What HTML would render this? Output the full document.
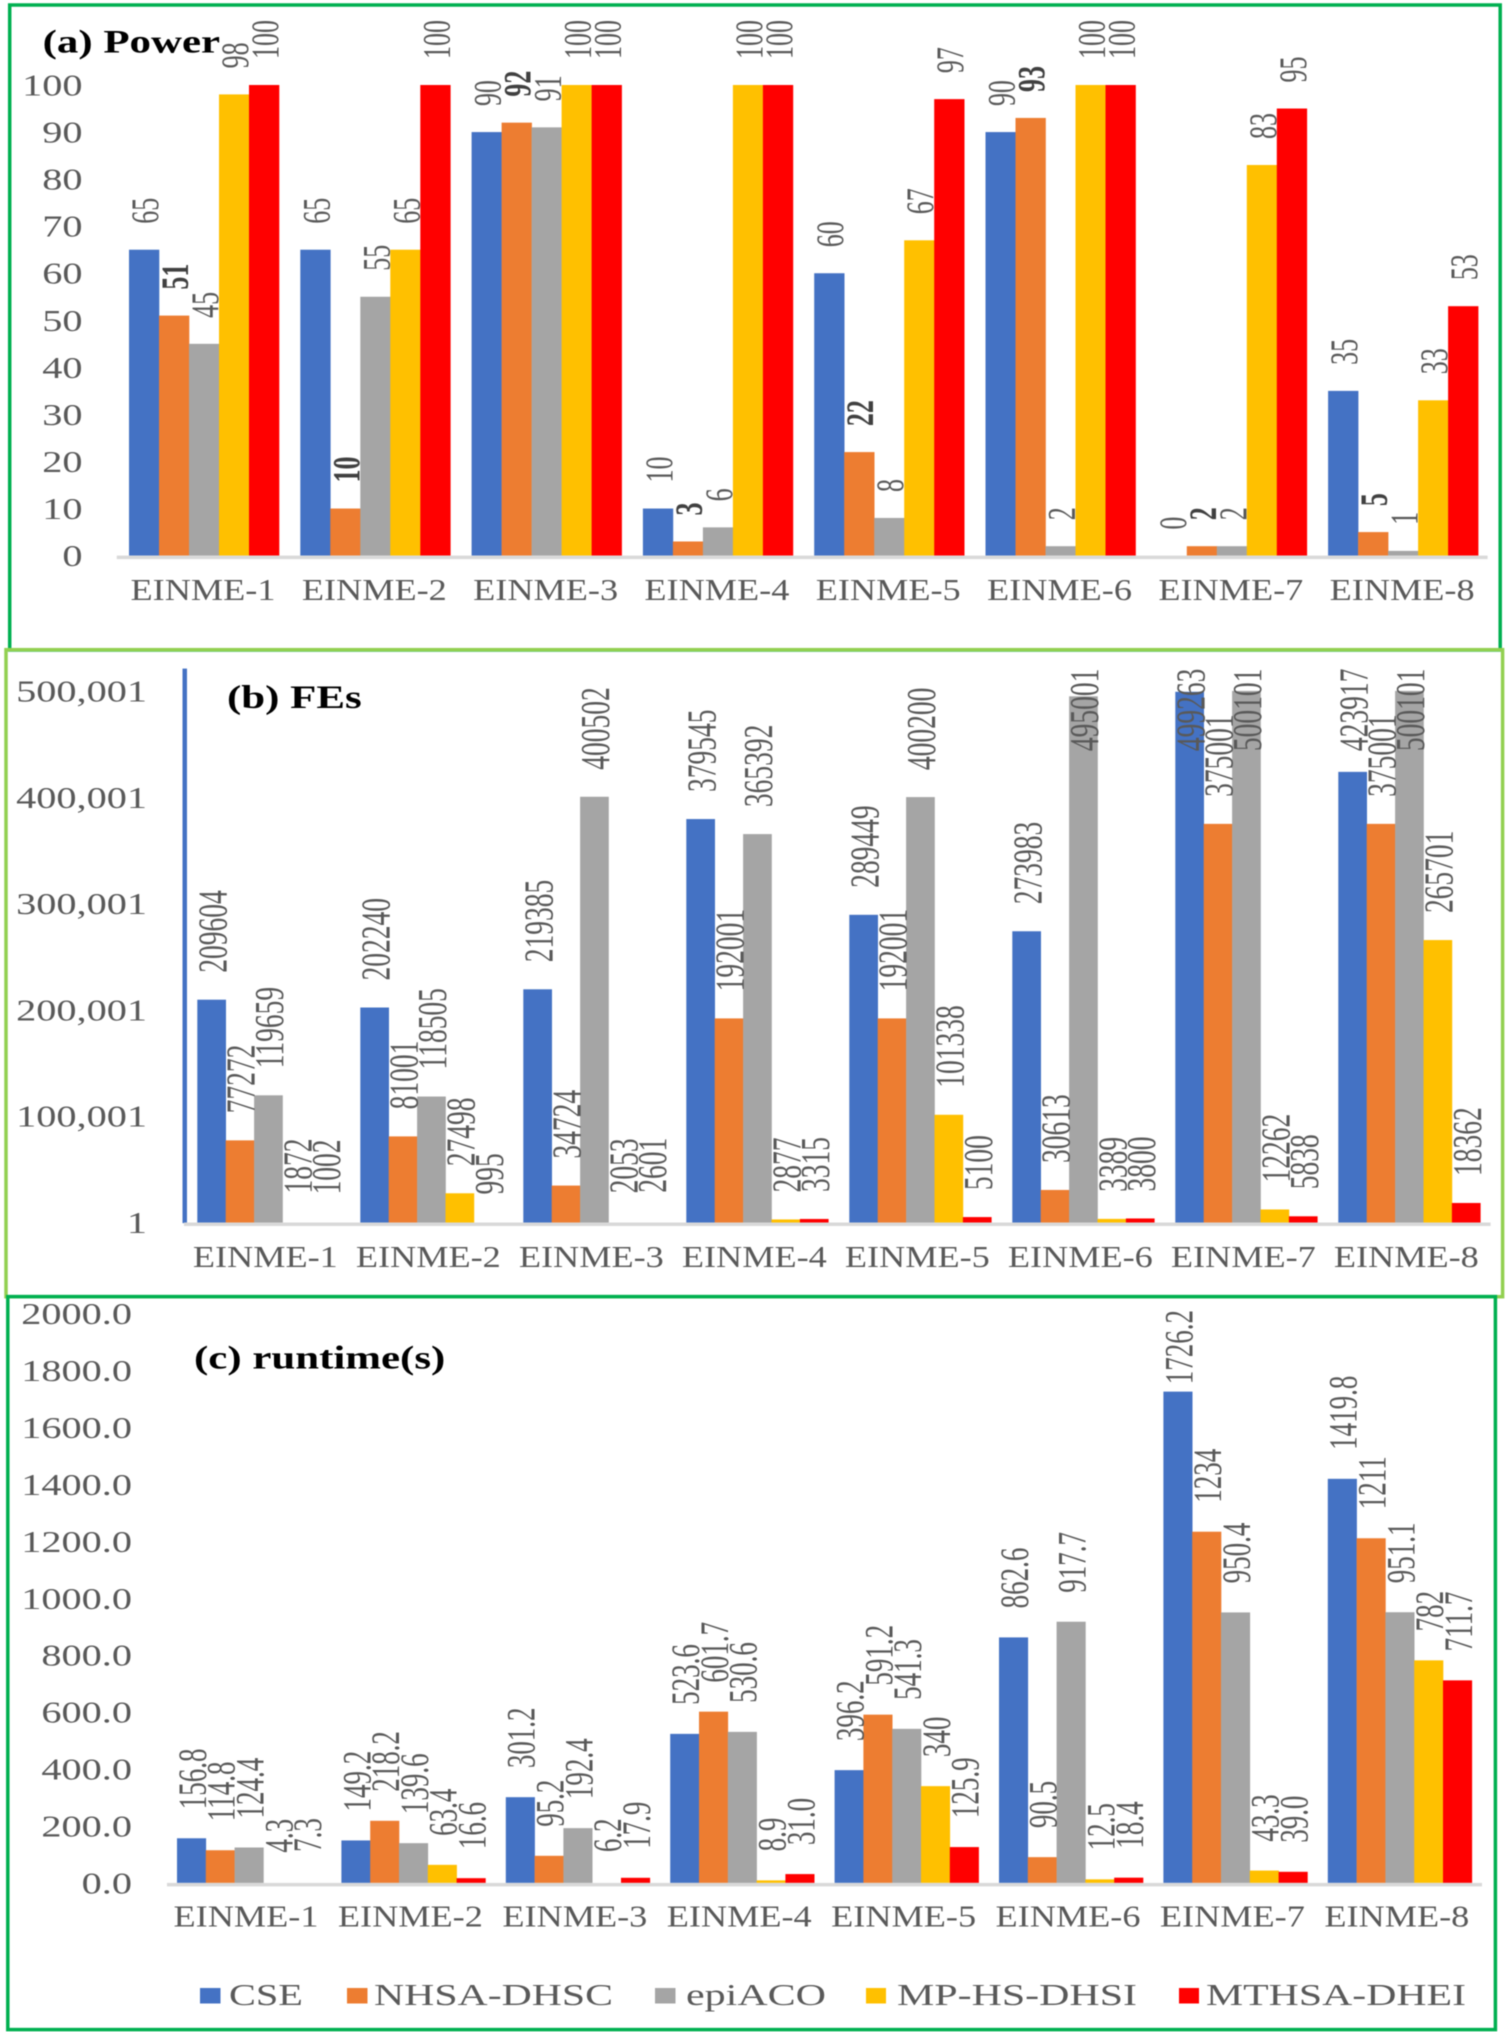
<!DOCTYPE html>
<html lang="en">
<head>
<meta charset="utf-8">
<title>Power, FEs and runtime comparison</title>
<style>
html,body{margin:0;padding:0;background:#fff;}
svg{display:block;font-family:"Liberation Serif",serif;filter:blur(0.5px);}
</style>
</head>
<body>
<svg id="figure" xmlns="http://www.w3.org/2000/svg" width="1506" height="2032" viewBox="0 0 1506 2032">
  <rect x="0" y="0" width="1506" height="2032" fill="#fff"/>
  <rect x="9.7" y="5" width="1490.5" height="645" fill="none" stroke="#00b050" stroke-width="3.5"/>
  <rect x="6" y="649.7" width="1496.6" height="647" fill="none" stroke="#92d050" stroke-width="3.5"/>
  <rect x="7.8" y="1296.6" width="1487.6" height="733" fill="none" stroke="#00b050" stroke-width="3.5"/>
  <rect x="182.5" y="668.6" width="4.5" height="554.5" fill="#4472c4"/>

  <text transform="translate(42.6 52.6) scale(1.3 1)" font-size="33" font-weight="bold" fill="#000">(a) Power</text>
  <text transform="translate(227 708) scale(1.3 1)" font-size="33" font-weight="bold" fill="#000">(b) FEs</text>
  <text transform="translate(194 1368.4) scale(1.3 1)" font-size="33" font-weight="bold" fill="#000">(c) runtime(s)</text>

  <g id="panels"></g>

  <g font-size="31" fill="#595959">
    <g>
      <rect x="200" y="1988" width="20.5" height="15.5" fill="#4472c4"/>
      <text transform="translate(229 2005) scale(1.3 1)">CSE</text>
    </g>
    <g>
      <rect x="347" y="1988" width="20.5" height="15.5" fill="#ed7d31"/>
      <text x="374" y="2005" textLength="239" lengthAdjust="spacingAndGlyphs">NHSA-DHSC</text>
    </g>
    <g>
      <rect x="655" y="1988" width="20.5" height="15.5" fill="#a5a5a5"/>
      <text x="686" y="2005" textLength="140" lengthAdjust="spacingAndGlyphs">epiACO</text>
    </g>
    <g>
      <rect x="866" y="1988" width="20" height="15.5" fill="#ffc000"/>
      <text x="897" y="2005" textLength="240" lengthAdjust="spacingAndGlyphs">MP-HS-DHSI</text>
    </g>
    <g>
      <rect x="1179" y="1988" width="20" height="15.5" fill="#ff0000"/>
      <text x="1206" y="2005" textLength="260" lengthAdjust="spacingAndGlyphs">MTHSA-DHEI</text>
    </g>
  </g>
</svg>
<script>
const categories = ['EINME-1','EINME-2','EINME-3','EINME-4','EINME-5','EINME-6','EINME-7','EINME-8'];
const seriesNames = ['cse','nhsa-dhsc','epiaco','mp-hs-dhsi','mthsa-dhei'];

const powerCSE = [65,65,90,10,60,90,0,35];
const powerNHSA = [51,10,92,3,22,93,2,5];
const powerEpi = [45,55,91,6,8,2,2,1];
const powerMP = [98,65,100,100,67,100,83,33];
const powerMTHSA = [100,100,100,100,97,100,95,53];
const powerTicks = [0,10,20,30,40,50,60,70,80,90,100];

const fesCSE = [209604,202240,219385,379545,289449,273983,499263,423917];
const fesNHSA = [77272,81001,34724,192001,192001,30613,375001,375001];
const fesEpi = [119659,118505,400502,365392,400200,495001,500101,500101];
const fesMP = [1872,27498,2053,2877,101338,3389,12262,265701];
const fesMTHSA = [1002,995,2601,3315,5100,3800,5838,18362];
const fesTicks = [1,100001,200001,300001,400001,500001];
const fesTickLabels = ['1','100,001','200,001','300,001','400,001','500,001'];

const runtimeCSE = [156.8,149.2,301.2,523.6,396.2,862.6,1726.2,1419.8];
const runtimeNHSA = [114.8,218.2,95.2,601.7,591.2,90.5,1234,1211];
const runtimeEpi = [124.4,139.6,192.4,530.6,541.3,917.7,950.4,951.1];
const runtimeMP = [4.3,63.4,6.2,8.9,340,12.5,43.3,782];
const runtimeMTHSA = [7.3,16.6,17.9,31.0,125.9,18.4,39.0,711.7];
const runtimeTicks = [0,200,400,600,800,1000,1200,1400,1600,1800,2000];
const runtimeTrailingZero = [31,39];

const colors = ['#4472c4','#ed7d31','#a5a5a5','#ffc000','#ff0000'];
const NS = 'http://www.w3.org/2000/svg';
const root = document.getElementById('panels');

function svgEl(tag, attrs, parent) {
  const el = document.createElementNS(NS, tag);
  for (const k in attrs) el.setAttribute(k, attrs[k]);
  parent.appendChild(el);
  return el;
}

function drawPanel(cfg) {
  const g = svgEl('g', {}, root);
  
  
  const yAxis = v => cfg.base - (v - cfg.min) * cfg.k;
  const xAxis = (c, s) => cfg.x0 + c * cfg.pitch + s * cfg.barW;

  cfg.series.forEach((vals, s) => {
    vals.forEach((v, c) => {
      const y = yAxis(v);
      const h = Math.max(0, cfg.base - y);
      const bar = svgEl('rect', {x: xAxis(c, s), y: y, width: cfg.barW + 0.3, height: h < cfg.minBarPx ? 0 : h, fill: colors[s]}, g);
      
      
    });
  });

  const axis = svgEl('rect', {x: cfg.axisX0, y: cfg.base, width: cfg.axisX1 - cfg.axisX0, height: 3.5, fill: '#d9d9d9'}, g);
  
  

  cfg.ticks.forEach((t, i) => {
    const tick = svgEl('text', {
      transform: 'translate(' + cfg.tickRight + ' ' + (yAxis(t) + 10.5) + ') scale(1.3 1)',
      'text-anchor': 'end', 'font-size': 31, fill: '#595959'
    }, g);
    tick.textContent = cfg.tickLabel(t, i);
    
    
  });

  categories.forEach((name, c) => {
    const cx = xAxis(c, 2.5) + cfg.catShift;
    const label = svgEl('text', {
      transform: 'translate(' + cx + ' ' + cfg.catY + ') scale(1.17 1)',
      'text-anchor': 'middle', 'font-size': 31, fill: '#595959'
    }, g);
    label.textContent = name;
    
    
  });

  cfg.series.forEach((vals, s) => {
    vals.forEach((v, c) => {
      const str = cfg.print(v);
      const len = str.length * cfg.font * 0.5 - (str.indexOf('.') >= 0 ? cfg.font * 0.25 : 0);
      const bottom = Math.max(yAxis(v) - cfg.gap, cfg.clampTop + len);
      const cx = xAxis(c, s + 0.5) + 1 + cfg.font * 0.5;
      const bold = cfg.boldSeries === s;
      const txt = svgEl('text', {
        transform: 'translate(' + cx + ' ' + bottom + ') scale(1.5 1) rotate(-90)',
        'font-size': cfg.font, fill: bold ? '#404040' : '#595959', 'font-weight': bold ? 'bold' : 'normal'
      }, g);
      txt.textContent = str;
      
      
    });
  });
}

drawPanel({
  name: 'power',
  series: [powerCSE, powerNHSA, powerEpi, powerMP, powerMTHSA],
  ticks: powerTicks, tickLabel: t => String(t),
  print: v => String(v),
  base: 555.6, min: 0, k: 4.706, minBarPx: 0,
  x0: 129, pitch: 171.3, barW: 30,
  axisX0: 116.8, axisX1: 1487.6,
  tickRight: 82.5, catY: 600, catShift: -1,
  font: 26, gap: 26, clampTop: 19, boldSeries: 1
});

drawPanel({
  name: 'fes',
  series: [fesCSE, fesNHSA, fesEpi, fesMP, fesMTHSA],
  ticks: fesTicks, tickLabel: (t, i) => fesTickLabels[i],
  print: v => String(v),
  base: 1222.5, min: 1, k: 0.001063, minBarPx: 2.9,
  x0: 197.3, pitch: 163, barW: 28.4,
  axisX0: 184, axisX1: 1490.6,
  tickRight: 147, catY: 1267, catShift: -3,
  font: 27.5, gap: 27, clampTop: 668.6, boldSeries: -1
});

drawPanel({
  name: 'runtime',
  series: [runtimeCSE, runtimeNHSA, runtimeEpi, runtimeMP, runtimeMTHSA],
  ticks: runtimeTicks, tickLabel: t => t.toFixed(1),
  print: v => (Number.isInteger(v) && runtimeTrailingZero.indexOf(v) < 0) ? String(v) : v.toFixed(1),
  base: 1882.9, min: 0, k: 0.2846, minBarPx: 2.3,
  x0: 177, pitch: 164.4, barW: 28.8,
  axisX0: 167, axisX1: 1482,
  tickRight: 132, catY: 1926.6, catShift: -3,
  font: 27, gap: 29, clampTop: 1310, boldSeries: -1
});
</script>
</body>
</html>
